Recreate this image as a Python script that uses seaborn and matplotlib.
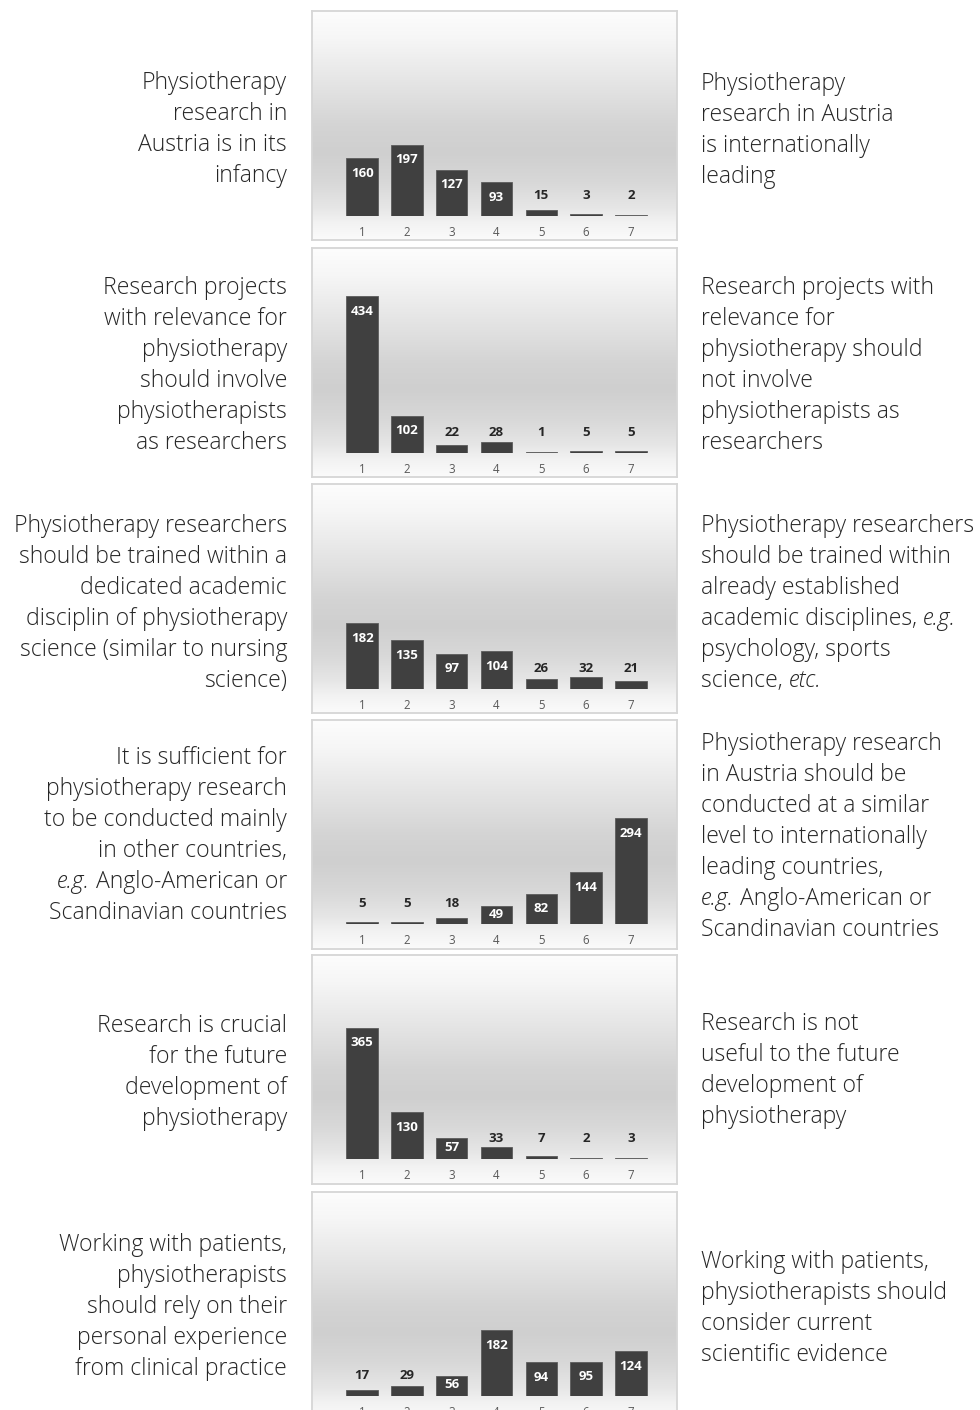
import numpy as np
import matplotlib
matplotlib.use("Agg")
import matplotlib.pyplot as plt
import seaborn as sns
from matplotlib.colors import LinearSegmentedColormap

sns.set_theme(style="white")
plt.rcParams['font.family'] = ['Open Sans', 'DejaVu Sans']

# ---------------- data ----------------
scale_points = ["1", "2", "3", "4", "5", "6", "7"]
counts_infancy = [160, 197, 127, 93, 15, 3, 2]
counts_involve = [434, 102, 22, 28, 1, 5, 5]
counts_training = [182, 135, 97, 104, 26, 32, 21]
counts_international = [5, 5, 18, 49, 82, 144, 294]
counts_future = [365, 130, 57, 33, 7, 2, 3]
counts_evidence = [17, 29, 56, 182, 94, 95, 124]

left_infancy = ["Physiotherapy", "research in", "Austria is in its", "infancy"]
right_infancy = ["Physiotherapy", "research in Austria", "is internationally", "leading"]
left_involve = ["Research projects", "with relevance for", "physiotherapy", "should involve",
                "physiotherapists", "as researchers"]
right_involve = ["Research projects with", "relevance for", "physiotherapy should",
                 "not involve", "physiotherapists as", "researchers"]
left_training = ["Physiotherapy researchers", "should be trained within a", "dedicated academic",
                 "disciplin of physiotherapy", "science (similar to nursing", "science)"]
right_training = ["Physiotherapy researchers", "should be trained within", "already established",
                  "academic disciplines, _e.g._", "psychology, sports", "science, _etc._"]
left_international = ["It is sufficient for", "physiotherapy research", "to be conducted mainly",
                      "in other countries,", "_e.g._ Anglo-American or", "Scandinavian countries"]
right_international = ["Physiotherapy research", "in Austria should be", "conducted at a similar",
                       "level to internationally", "leading countries,", "_e.g._ Anglo-American or",
                       "Scandinavian countries"]
left_future = ["Research is crucial", "for the future", "development of", "physiotherapy"]
right_future = ["Research is not", "useful to the future", "development of", "physiotherapy"]
left_evidence = ["Working with patients,", "physiotherapists", "should rely on their",
                 "personal experience", "from clinical practice"]
right_evidence = ["Working with patients,", "physiotherapists should", "consider current",
                  "scientific evidence"]

panel_counts = [counts_infancy, counts_involve, counts_training,
                counts_international, counts_future, counts_evidence]
panel_left = [left_infancy, left_involve, left_training, left_international, left_future, left_evidence]
panel_right = [right_infancy, right_involve, right_training, right_international, right_future,
               right_evidence]

# ---------------- layout (pixels) ----------------
W, H = 980, 1410
fig = plt.figure(figsize=(W / 100, H / 100), dpi=100)
fig.patch.set_facecolor("white")

box_x0, box_x1 = 312, 677
box_tops = [11, 248, 484, 719.5, 954.5, 1191.5]
box_h = 229
base_off = 204.5
px_per_unit = 0.36
left_first_base = [89, 294, 532, 764, 1032, 1251]
right_first_base = [90, 294, 532, 750, 1030, 1268]
line_gap = 31
left_edge_right = 287
right_edge_left = 701

text_color = "#262626"
bar_color = "#404040"
FS = 16.6
TEXT_WEIGHT = 300

grad = LinearSegmentedColormap.from_list(
    "bg", [(0.0, "#fdfdfd"), (0.12, "#f6f6f6"), (0.30, "#e6e6e6"), (0.50, "#d4d4d4"),
           (0.62, "#cfcfcf"), (0.75, "#d8d8d8"), (0.86, "#e6e6e6"), (0.93, "#f3f3f3"),
           (1.0, "#fbfbfb")])


def rect(x0, ytop, w, h):
    return [x0 / W, 1 - (ytop + h) / H, w / W, h / H]


for k in range(6):
    top = box_tops[k]
    # background box with gradient
    bg = fig.add_axes(rect(box_x0, top, box_x1 - box_x0, box_h))
    bg.imshow(np.linspace(0, 1, 256).reshape(-1, 1), cmap=grad, aspect="auto",
              extent=[0, 1, 0, 1], vmin=0, vmax=1)
    bg.set_xlim(0, 1)
    bg.set_ylim(0, 1)
    bg.set_xticks([])
    bg.set_yticks([])
    for s in bg.spines.values():
        s.set_color("#d6d6d6")
        s.set_linewidth(1.3)

    # data axes: from baseline up to top of box
    ax = fig.add_axes(rect(box_x0, top, box_x1 - box_x0, base_off), facecolor="none")
    vals = panel_counts[k]
    sns.barplot(x=scale_points, y=vals, ax=ax, color=bar_color, saturation=1, width=0.7,
                edgecolor="#5c5c5c", linewidth=0.6)
    ax.set_xlim(-1.12, 7.03)
    ax.set_ylim(0, base_off / px_per_unit)
    ax.set_yticks([])
    ax.set_ylabel("")
    ax.set_xlabel("")
    for s in ax.spines.values():
        s.set_visible(False)
    ax.tick_params(axis="x", length=0, pad=7.5, labelsize=8.3, labelcolor="#595959")
    for i, v in enumerate(vals):
        if v >= 45:
            ylab = max(v - 42, v / 2 + 3)
            ax.text(i, ylab, str(v), ha="center", va="center", color="white",
                    fontsize=9.5, fontweight="bold")
        else:
            ax.annotate(str(v), (i, 0), xytext=(0, 14.5), textcoords="offset points",
                        ha="center", va="center", color=text_color, fontsize=9.5,
                        fontweight="bold")

renderer = fig.canvas.get_renderer()


def seg_split(line):
    parts = line.split("_")
    return [(p, idx % 2 == 1) for idx, p in enumerate(parts) if p != ""]


def advance(s, italic):
    st = "italic" if italic else "normal"
    t1 = fig.text(0, 0, "X" + s + "X", fontsize=FS, style=st, fontweight=TEXT_WEIGHT)
    t2 = fig.text(0, 0, "XX", fontsize=FS, style=st, fontweight=TEXT_WEIGHT)
    w = t1.get_window_extent(renderer).width - t2.get_window_extent(renderer).width
    t1.remove()
    t2.remove()
    return w


def draw_line(line, x, ybase, align):
    segs = seg_split(line)
    widths = [advance(s, it) for s, it in segs]
    total = sum(widths)
    cx = x - total if align == "right" else x
    for (s, it), w in zip(segs, widths):
        fig.text(cx / W, 1 - ybase / H, s, fontsize=FS, style="italic" if it else "normal",
                 fontweight=TEXT_WEIGHT, color=text_color, ha="left", va="baseline")
        cx += w


for k in range(6):
    for j, line in enumerate(panel_left[k]):
        draw_line(line, left_edge_right, left_first_base[k] + j * line_gap, "right")
    for j, line in enumerate(panel_right[k]):
        draw_line(line, right_edge_left, right_first_base[k] + j * line_gap, "left")

fig.savefig("out.png", dpi=100, facecolor="white")
